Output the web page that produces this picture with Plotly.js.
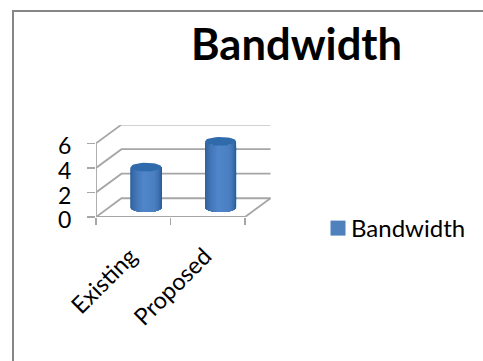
<!DOCTYPE html>
<html>
<head>
<meta charset="utf-8">
<script src="https://cdn.plot.ly/plotly-3.0.1.min.js"></script>
<style>
  html, body { margin: 0; padding: 0; background: #fff; overflow: hidden; }
  #chart { position: absolute; left: 0; top: 0; width: 483px; height: 361px; }
  #frame { position: absolute; left: 12px; top: 10px; width: 600px; height: 600px;
           border: 2.5px solid #868686; pointer-events: none; }
</style>
</head>
<body>
<div id="chart"></div>
<div id="frame"></div>
<script>
// Chart content
const chartTitle = 'Bandwidth';
const seriesName = 'Bandwidth';
const categories = ['Existing', 'Proposed'];
const bandwidth = [3.3, 5.4];
const yTicks = [0, 2, 4, 6];

// Oblique projection: depth 0 is the front plane, depth 1 the back wall
const depthX = 0.342;
const depthY = 1.53;
const project = (x, y, d) => [x + d * depthX, y + d * depthY];

const AXIS_GREY = '#a6a6a6';
const xMin = -0.5;
const xMax = categories.length - 0.5;
const traces = [];

function polyline(points, color, width) {
  traces.push({
    type: 'scatter', mode: 'lines', showlegend: false, hoverinfo: 'skip', cliponaxis: false,
    x: points.map(p => p[0]), y: points.map(p => p[1]),
    line: { color: color, width: width }
  });
}

// Back-wall gridlines with their side-wall diagonals
yTicks.forEach(v => {
  polyline([project(xMin, v, 0), project(xMin, v, 1), project(xMax, v, 1)], AXIS_GREY, 1.8);
});
// Floor edges and the vertical value axis
polyline([project(xMin, 0, 0), project(xMax, 0, 0), project(xMax, 0, 1)], AXIS_GREY, 1.8);
polyline([project(xMin, 0, 0), project(xMin, Math.max(...yTicks), 0)], AXIS_GREY, 1.8);

// Cylinders are painted left to right, each layer reaching the right edge,
// so the body shades smoothly from edge to centre
const radiusX = 0.208;
const radiusY = 0.36;
const STRIPS = 30;
const shadeStops = [[0, [42, 90, 150]], [0.45, [80, 134, 202]], [0.7, [74, 126, 192]], [1, [38, 84, 142]]];

function shade(t) {
  for (let k = 1; k < shadeStops.length; k++) {
    const [t0, c0] = shadeStops[k - 1];
    const [t1, c1] = shadeStops[k];
    if (t <= t1) {
      const f = (t - t0) / (t1 - t0);
      return 'rgb(' + c0.map((c, n) => Math.round(c + (c1[n] - c) * f)).join(',') + ')';
    }
  }
  return '#4f81bd';
}

function filled(points, color) {
  traces.push({
    type: 'scatter', mode: 'lines', fill: 'toself', fillcolor: color, showlegend: false,
    hoverinfo: 'skip', cliponaxis: false,
    x: points.map(p => p[0]), y: points.map(p => p[1]),
    line: { color: color, width: 0 }
  });
}

bandwidth.forEach((value, i) => {
  const [cx, cy] = project(i, 0, 0.5);
  for (let s = 0; s < STRIPS; s++) {
    const lower = [];
    const upper = [];
    for (let n = s; n <= STRIPS; n++) {
      const a = Math.PI - (n / STRIPS) * Math.PI;
      const px = cx + radiusX * Math.cos(a);
      const h = radiusY * Math.sin(a);
      lower.push([px, cy - h]);
      upper.unshift([px, cy + value - h]);
    }
    filled(lower.concat(upper), shade((s + 0.5) / STRIPS));
  }
  const lid = [];
  for (let a = 0; a <= 40; a++) {
    const t = (a / 40) * 2 * Math.PI;
    lid.push([cx + radiusX * Math.cos(t), cy + value + radiusY * Math.sin(t)]);
  }
  filled(lid, '#2f6aab');
});

// Legend entry for the series
traces.push({
  type: 'scatter', mode: 'markers', name: seriesName, x: [null], y: [null],
  marker: { symbol: 'square', size: 15, color: '#4f81bd' }
});

const layout = {
  width: 483, height: 361,
  paper_bgcolor: '#fff', plot_bgcolor: 'rgba(0,0,0,0)',
  margin: { l: 96, r: 211, t: 125, b: 144.3, pad: 0, autoexpand: false },
  font: { family: 'Lato, Carlito, sans-serif', color: '#000' },
  title: {
    text: '<b>' + chartTitle + '</b>',
    font: { family: 'Lato, sans-serif', size: 43.5, color: '#000' },
    xref: 'container', yref: 'container',
    x: 0.614, xanchor: 'center', y: 0.877, yanchor: 'middle'
  },
  xaxis: {
    range: [xMin, 1.862], showgrid: false, zeroline: false, showline: false,
    tickmode: 'array', tickvals: categories.map((_, i) => i), ticktext: categories,
    ticks: '', tickangle: -45, tickfont: { size: 23.5 },
    ticklabelstandoff: 20, ticklabelshift: -3,
    minor: {
      tickmode: 'array', tickvals: [-0.5, 0.5, 1.5],
      ticks: 'outside', ticklen: 7, tickwidth: 1.5, tickcolor: AXIS_GREY, showgrid: false
    }
  },
  yaxis: {
    range: [0, 7.5], showgrid: false, zeroline: false, showline: false,
    tickmode: 'array', tickvals: yTicks,
    ticks: 'outside', ticklen: 8, tickwidth: 1.5, tickcolor: AXIS_GREY,
    tickfont: { size: 23 }, ticklabelstandoff: 11, ticklabelshift: 3
  },
  legend: {
    x: 1.2216, xanchor: 'left', y: -0.125, yanchor: 'middle',
    font: { size: 24 }, bgcolor: 'rgba(0,0,0,0)', itemwidth: 30
  },
  showlegend: true
};

Plotly.newPlot('chart', traces, layout, { displayModeBar: false, staticPlot: true }).then(() => {
  // Tighten the gap between the legend swatch and its label
  document.querySelectorAll('#chart .legendsymbols').forEach(g => g.setAttribute('transform', 'translate(7,0)'));
});
</script>
</body>
</html>
